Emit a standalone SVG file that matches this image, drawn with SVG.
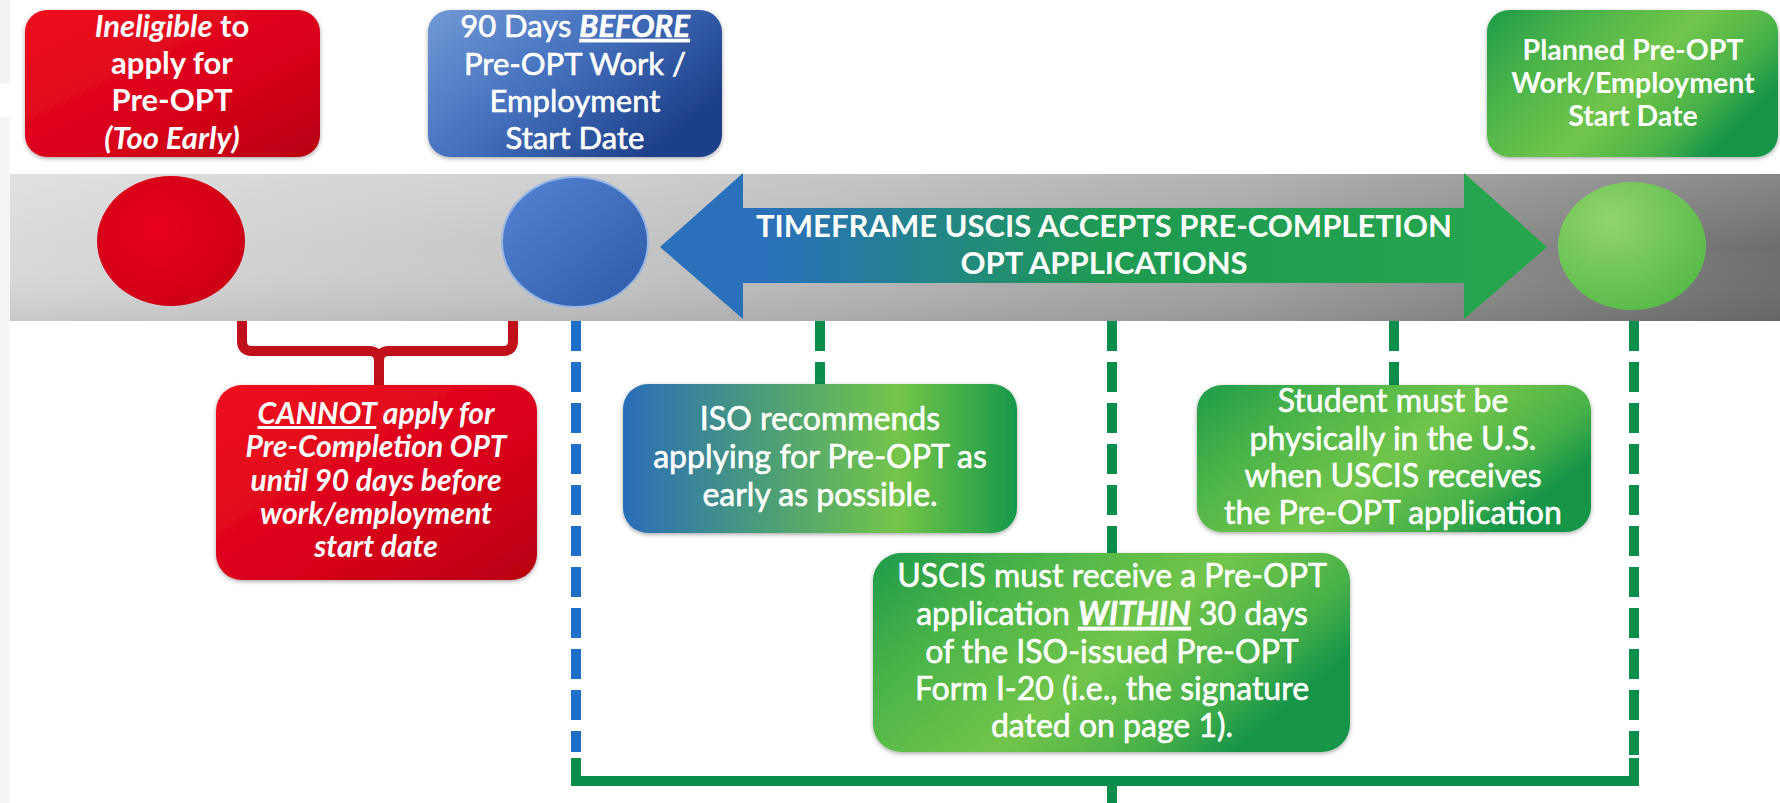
<svg xmlns="http://www.w3.org/2000/svg" width="1780" height="803" viewBox="0 0 1780 803">
<defs>
<linearGradient id="gBand" x1="0" y1="0" x2="1" y2="0">
<stop offset="0" stop-color="#dadada"/><stop offset="0.35" stop-color="#c4c4c4"/><stop offset="0.7" stop-color="#a2a2a2"/><stop offset="1" stop-color="#6e6e6e"/>
</linearGradient>
<linearGradient id="gBandV" x1="0" y1="0" x2="0" y2="1">
<stop offset="0" stop-color="#ffffff" stop-opacity="0.18"/><stop offset="0.5" stop-color="#ffffff" stop-opacity="0"/><stop offset="1" stop-color="#000000" stop-opacity="0.08"/>
</linearGradient>
<linearGradient id="gRed" x1="0" y1="0" x2="1" y2="1">
<stop offset="0" stop-color="#f0121f"/><stop offset="0.6" stop-color="#d8001a"/><stop offset="1" stop-color="#b80010"/>
</linearGradient>
<radialGradient id="gRedC" cx="0.4" cy="0.4" r="0.7">
<stop offset="0" stop-color="#e8001c"/><stop offset="1" stop-color="#cc0015"/>
</radialGradient>
<linearGradient id="gBlueBox" x1="0" y1="0" x2="1" y2="0.6">
<stop offset="0" stop-color="#7299d6"/><stop offset="0.5" stop-color="#4470bd"/><stop offset="1" stop-color="#1d3f88"/>
</linearGradient>
<linearGradient id="gBlueC" x1="0" y1="0" x2="1" y2="1">
<stop offset="0" stop-color="#5584d4"/><stop offset="1" stop-color="#2c5aa8"/>
</linearGradient>
<radialGradient id="gGreenC" cx="0.35" cy="0.3" r="0.8">
<stop offset="0" stop-color="#92d46c"/><stop offset="1" stop-color="#55b947"/>
</radialGradient>
<linearGradient id="gGreenBox" x1="0" y1="0" x2="1" y2="0.5">
<stop offset="0" stop-color="#1f9b4b"/><stop offset="0.3" stop-color="#4db548"/><stop offset="0.6" stop-color="#72c54c"/><stop offset="0.85" stop-color="#48b148"/><stop offset="1" stop-color="#18954a"/>
</linearGradient>
<linearGradient id="gIso" x1="0" y1="0" x2="1" y2="0">
<stop offset="0" stop-color="#2a6db8"/><stop offset="0.35" stop-color="#4a9c7a"/><stop offset="0.7" stop-color="#74c54a"/><stop offset="1" stop-color="#17984b"/>
</linearGradient>
<linearGradient id="gArrow" x1="660" y1="0" x2="1547" y2="0" gradientUnits="userSpaceOnUse">
<stop offset="0" stop-color="#2a70bb"/><stop offset="0.12" stop-color="#2a70bb"/><stop offset="0.3" stop-color="#23848a"/><stop offset="0.5" stop-color="#1f9a52"/><stop offset="1" stop-color="#27a64d"/>
</linearGradient>
<filter id="sh" x="-10%" y="-10%" width="120%" height="130%">
<feDropShadow dx="0" dy="1.5" stdDeviation="2" flood-color="#000" flood-opacity="0.35"/>
</filter>
<style>
text{font-family:Lato,"Liberation Sans",sans-serif;fill:#ffffff;text-anchor:middle}
.reg{stroke:#ffffff;stroke-width:0.6}
.b{font-weight:700}
.it{font-style:italic}
.u{text-decoration:underline}
.top{font-size:31px}
.rtop{font-size:31px}
.mid{font-size:32px}
.rlow{font-size:30px;font-weight:700;font-style:italic}
.gtop{font-size:28.5px;font-weight:700}
.arr{font-size:31px;font-weight:700}
.dash{fill:none;stroke-width:10;stroke-dasharray:30 11}
.bl{stroke:#1f6fc9}
.gr{stroke:#0b8d4c}
.solid{fill:none;stroke:#0b8d4c;stroke-width:10}
.brk{fill:none;stroke:#c0101a;stroke-width:10;stroke-linejoin:round}
</style>
</defs>
<rect width="1780" height="803" fill="#ffffff"/>
<rect x="0" y="0" width="10" height="83" fill="#f2f2f2"/>
<rect x="0" y="117" width="10" height="686" fill="#f5f5f5"/>

<g id="timeline">
<rect x="10" y="174" width="1770" height="147" fill="url(#gBand)"/>
<rect x="10" y="174" width="1770" height="147" fill="url(#gBandV)"/>
<ellipse cx="171" cy="241" rx="74" ry="65" fill="url(#gRedC)"/>
<ellipse cx="575" cy="242" rx="73" ry="65" fill="url(#gBlueC)" stroke="#9ab6e2" stroke-width="2"/>
<ellipse cx="1632" cy="246" rx="74" ry="64" fill="url(#gGreenC)"/>
<polygon id="timeframe-arrow" points="660,247 743,173 743,208 1464,208 1464,173 1547,247 1464,319 1464,283 743,283 743,319" fill="url(#gArrow)"/>
<text class="arr" x="1104" y="237">TIMEFRAME USCIS ACCEPTS PRE-COMPLETION</text>
<text class="arr" x="1104" y="274">OPT APPLICATIONS</text>
</g>

<g id="connectors">
<path class="brk" d="M242,321 V341 Q242,351 252,351 H369 Q379,351 379,361 V386 M379,361 Q379,351 389,351 H503 Q513,351 513,341 V321"/>
<line class="dash bl" x1="576" y1="321" x2="576" y2="752"/>
<line class="dash gr" x1="820" y1="321" x2="820" y2="385"/>
<line class="dash gr" x1="1112" y1="321" x2="1112" y2="553"/>
<line class="dash gr" x1="1394" y1="321" x2="1394" y2="385"/>
<line class="dash gr" x1="1634" y1="321" x2="1634" y2="755"/>
<path class="solid" d="M576,758 V781 H1634 V758"/>
<line class="solid" x1="1112" y1="781" x2="1112" y2="803"/>
</g>

<g id="node-ineligible">
<rect x="25" y="10" width="295" height="147" rx="22" fill="url(#gRed)" filter="url(#sh)"/>
<text class="rtop b" x="172" y="37"><tspan class="it">Ineligible</tspan> to</text>
<text class="rtop b" x="172" y="74">apply for</text>
<text class="rtop b" x="172" y="111">Pre-OPT</text>
<text class="rtop b it" x="172" y="149">(Too Early)</text>
</g>

<g id="node-90days">
<rect x="428" y="10" width="294" height="147" rx="22" fill="url(#gBlueBox)" filter="url(#sh)"/>
<text class="top reg" x="575" y="37">90 Days <tspan class="b it u">BEFORE</tspan></text>
<text class="top reg" x="575" y="75">Pre-OPT Work /</text>
<text class="top reg" x="575" y="112">Employment</text>
<text class="top reg" x="575" y="149">Start Date</text>
</g>

<g id="node-planned">
<rect x="1487" y="10" width="291" height="147" rx="22" fill="url(#gGreenBox)" filter="url(#sh)"/>
<text class="gtop" x="1633" y="60">Planned Pre-OPT</text>
<text class="gtop" x="1633" y="93">Work/Employment</text>
<text class="gtop" x="1633" y="126">Start Date</text>
</g>

<g id="node-cannot">
<rect x="216" y="385" width="321" height="195" rx="26" fill="url(#gRed)" filter="url(#sh)"/>
<text class="rlow" x="376" y="424"><tspan class="u">CANNOT</tspan> apply for</text>
<text class="rlow" x="376" y="457">Pre-Completion OPT</text>
<text class="rlow" x="376" y="491">until 90 days before</text>
<text class="rlow" x="376" y="524">work/employment</text>
<text class="rlow" x="376" y="557">start date</text>
</g>

<g id="node-iso">
<rect x="623" y="384" width="394" height="149" rx="25" fill="url(#gIso)" filter="url(#sh)"/>
<text class="mid reg" x="820" y="430">ISO recommends</text>
<text class="mid reg" x="820" y="468">applying for Pre-OPT as</text>
<text class="mid reg" x="820" y="506">early as possible.</text>
</g>

<g id="node-student">
<rect x="1197" y="385" width="394" height="147" rx="25" fill="url(#gGreenBox)" filter="url(#sh)"/>
<text class="mid reg" x="1393" y="412">Student must be</text>
<text class="mid reg" x="1393" y="450">physically in the U.S.</text>
<text class="mid reg" x="1393" y="487">when USCIS receives</text>
<text class="mid reg" x="1393" y="524">the Pre-OPT application</text>
</g>

<g id="node-uscis">
<rect x="873" y="553" width="477" height="199" rx="28" fill="url(#gGreenBox)" filter="url(#sh)"/>
<text class="mid reg" x="1112" y="587">USCIS must receive a Pre-OPT</text>
<text class="mid reg" x="1112" y="625">application <tspan class="b it u">WITHIN</tspan> 30 days</text>
<text class="mid reg" x="1112" y="663">of the ISO-issued Pre-OPT</text>
<text class="mid reg" x="1112" y="700">Form I-20 (i.e., the signature</text>
<text class="mid reg" x="1112" y="737">dated on page 1).</text>
</g>
</svg>
